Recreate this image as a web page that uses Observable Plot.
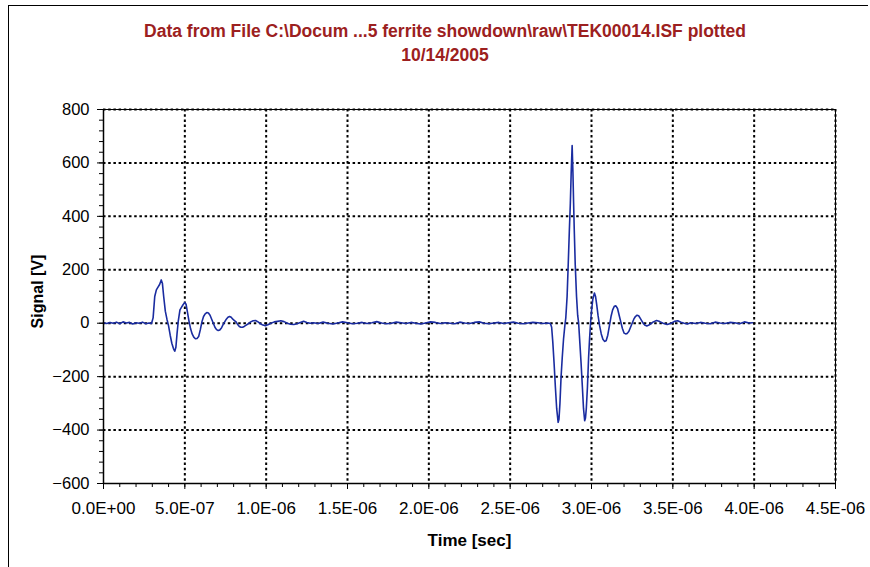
<!DOCTYPE html>
<html><head><meta charset="utf-8">
<script src="https://cdn.jsdelivr.net/npm/d3@7"></script>
<script src="https://cdn.jsdelivr.net/npm/@observablehq/plot@0.6"></script>
<style>
body{margin:0;background:#fff;}
#wrap{position:relative;width:870px;height:567px;overflow:hidden;background:#fff;font-family:"Liberation Sans",Arial,sans-serif;}
#border{position:absolute;left:8px;top:5px;width:860px;height:600px;border-left:1px solid #000;border-top:1px solid #000;box-sizing:border-box;}
#title{position:absolute;left:445px;top:19px;transform:translateX(-50%);white-space:nowrap;text-align:center;color:#9c2020;font-weight:bold;font-size:17.5px;line-height:24px;}
#chart{position:absolute;left:0;top:0;}
</style></head><body>
<div id="wrap"><div id="border"></div><div id="title"></div><div id="chart"></div></div>
<script>
const titleLines = ["Data from File C:\\Docum ...5 ferrite showdown\\raw\\TEK00014.ISF plotted", "10/14/2005"];
const xLabel = "Time [sec]";
const yLabel = "Signal [V]";
const xTicks = [0, 5e-7, 1e-6, 1.5e-6, 2e-6, 2.5e-6, 3e-6, 3.5e-6, 4e-6, 4.5e-6];
const yTicks = [-600, -400, -200, 0, 200, 400, 600, 800];

// time in ns
const timeNs = [
  0,20,40,60,80,100,120,140,160,180,200,220,240,260,280,295,
  305,315,325,335,345,355,362,370,380,390,400,410,420,430,438,445,452,460,470,480,
  490,500,508,515,525,535,545,555,565,575,585,595,605,615,625,635,645,655,665,675,
  685,695,705,715,725,735,745,755,765,775,785,795,805,815,825,835,845,855,865,875,
  890,905,920,935,950,965,980,995,1010,1030,1050,1070,1090,1110,1130,1150,1170,1190,1210,1230,1250,1270,
  1290,1320,1350,1380,1410,1440,1470,1500,1530,1560,1590,1620,1650,1680,1710,1740,1770,1800,1830,1860,
  1890,1920,1950,1980,2010,2040,2070,2100,2130,2160,2190,2220,2250,2280,2310,2340,2370,2400,2430,2460,
  2490,2520,2550,2580,2610,2640,2670,2700,2730,
  2740,2748,2755,2762,2770,2778,2786,2795,2800,2806,2813,2820,2828,2836,2842,2850,2857,2864,2870,2875,
  2881,2886,2890,2894,2900,2908,2915,2921,2928,2936,2944,2951,2958,2963,2968,2975,2982,2988,2994,3000,
  3008,3018,3025,3032,3040,3050,3060,3070,3080,3090,3100,3110,3120,3130,3140,3150,3160,3170,3180,3190,
  3200,3210,3220,3230,3240,3250,3260,3270,3280,3290,3300,3310,3320,3330,3340,3350,3365,3380,3400,3420,
  3440,3465,3490,3510,3530,3550,3570,3590,
  3610,3640,3670,3700,3730,3760,3790,3820,3850,3880,3910,3940,3970,3990
];
const signalV = [
  2,-1,3,0,4,-2,5,1,3,-3,2,0,4,-2,1,-1,
  20,100,125,135,145,162,150,100,45,15,-10,-45,-75,-95,-105,-90,-40,10,50,60,
  70,78,70,45,10,-20,-40,-52,-58,-57,-50,-25,5,25,35,40,38,30,15,0,
  -15,-24,-27,-25,-18,-5,5,15,22,25,22,15,10,5,-5,-12,-15,-15,-12,-8,
  -2,5,9,10,5,-2,-7,-9,-6,0,5,7,9,6,0,-4,-5,-2,3,7,3,0,
  2,-1,4,0,-3,1,5,2,-2,0,3,-1,2,6,1,-2,0,4,2,-1,
  3,0,-3,1,5,3,-1,2,0,-2,4,1,-1,3,5,0,-2,1,3,-1,
  2,4,0,-2,1,3,2,-1,1,
  0,-2,-15,-70,-150,-240,-320,-371,-360,-300,-200,-130,-60,-10,20,100,222,350,450,560,
  665,560,450,350,220,100,30,0,-70,-150,-240,-320,-365,-355,-320,-240,-130,-60,0,45,
  90,113,100,70,30,-10,-40,-60,-68,-66,-45,-10,25,50,63,65,55,30,5,-20,
  -37,-40,-38,-30,-15,0,15,25,30,28,18,8,-2,-8,-10,-8,-2,5,10,6,
  0,-5,0,7,9,4,0,-3,
  2,-1,3,0,-2,4,1,-1,3,2,-2,5,1,2
];

document.getElementById("title").innerHTML = titleLines.join("<br>");

const data = timeNs.map((t, i) => ({t: t * 1e-9, v: signalV[i]}));
const xMinor = d3.range(0, 46).map(i => i * 1e-7);
const yMinor = d3.range(-600, 801, 40);
const fmt = d => {
  const [m, e] = d.toExponential(1).split("e");
  const n = +e;
  return m + "E" + (n < 0 ? "-" : "+") + String(Math.abs(n)).padStart(2, "0");
};
const grid = {stroke: "#000", strokeOpacity: 1, strokeWidth: 2, strokeDasharray: "2.5,2.7"};

const chart = Plot.plot({
  width: 870, height: 567,
  marginLeft: 103, marginRight: 35, marginTop: 109, marginBottom: 84,
  style: {fontFamily: "Liberation Sans, Arial, sans-serif", fontSize: "16px", color: "#000", background: "transparent", overflow: "visible"},
  x: {domain: [0, 4.5e-6]},
  y: {domain: [-600, 800]},
  marks: [
    Plot.gridX(xTicks.slice(1), grid),
    Plot.gridY(yTicks.slice(1), grid),
    Plot.frame({stroke: "#000", strokeWidth: 1}),
    Plot.line(data, {x: "t", y: "v", stroke: "#1a2ca0", strokeWidth: 1.6}),
    Plot.axisX(xMinor, {anchor: "bottom", tickSize: 4, tickFormat: () => "", label: null, strokeWidth: 1}),
    Plot.axisX(xTicks, {anchor: "bottom", tickSize: 6, tickPadding: 12, tickFormat: fmt, label: null, fontSize: 17}),
    Plot.axisY(yMinor, {anchor: "left", tickSize: 4, tickFormat: () => "", label: null}),
    Plot.axisY(yTicks, {anchor: "left", tickSize: 6, tickPadding: 8, label: null, fontSize: 16.5}),
    Plot.ruleY([-600], {stroke: "#000", strokeWidth: 1.5}),
    Plot.ruleX([0], {stroke: "#000", strokeWidth: 1.5}),
    Plot.text([xLabel], {frameAnchor: "bottom", dy: 57, lineAnchor: "middle", textAnchor: "middle", fontWeight: "bold", fontSize: 17}),
    Plot.text([yLabel], {frameAnchor: "left", dx: -66, dy: -5, rotate: -90, lineAnchor: "middle", textAnchor: "middle", fontWeight: "bold", fontSize: 16})
  ]
});
document.getElementById("chart").appendChild(chart);
</script>
</body></html>
